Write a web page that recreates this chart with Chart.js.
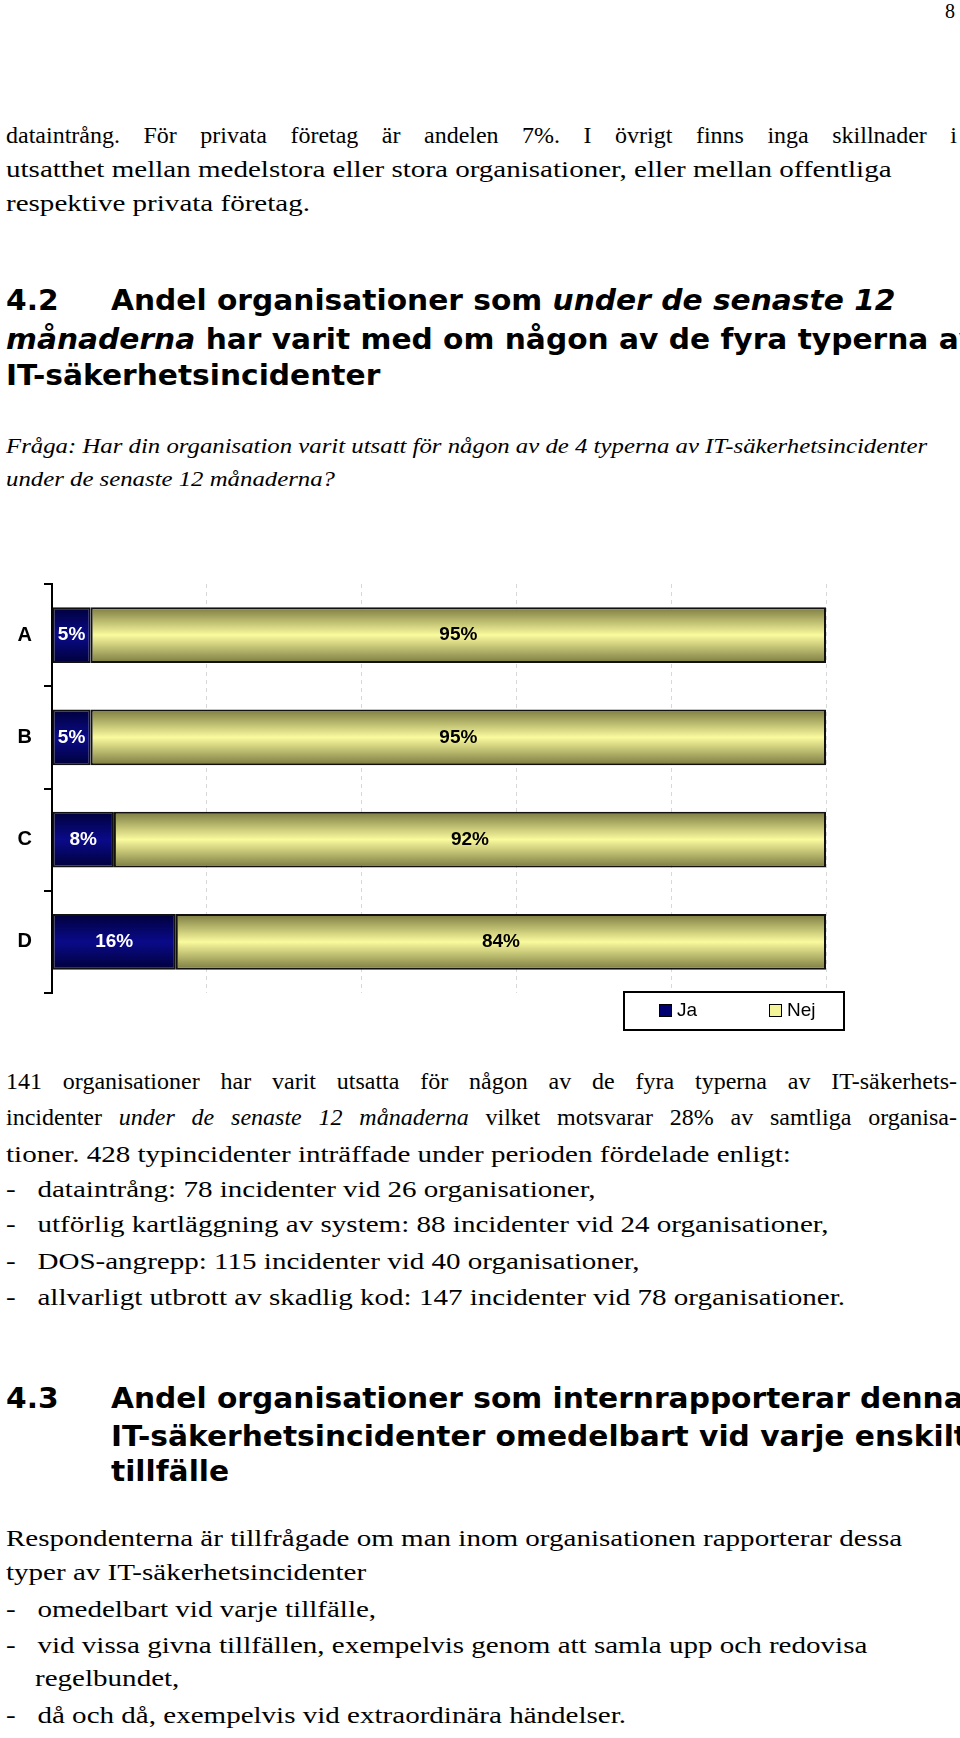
<!DOCTYPE html>
<html><head><meta charset="utf-8">
<script src="https://cdn.jsdelivr.net/npm/chart.js@4"></script>
<style>
body{margin:0;width:960px;height:1738px;background:#fff;position:relative;overflow:hidden;font-family:"Liberation Serif",serif;color:#000}
.l{position:absolute;left:6px;width:951px;font-size:24px;line-height:34px;white-space:nowrap}
.s{width:auto;transform:scaleX(1.21);transform-origin:0 0}
.j{text-align:justify;text-align-last:justify}
.h{position:absolute;font-family:"DejaVu Sans",sans-serif;font-weight:bold;font-size:28px;line-height:36px;white-space:nowrap;transform:scaleX(1.06);transform-origin:0 0}
.q{position:absolute;left:6px;font-style:italic;font-size:21px;line-height:30px;white-space:nowrap;transform:scaleX(1.18);transform-origin:0 0}
#wrap{position:absolute;left:0;top:560px;width:960px;height:460px}
#leg{position:absolute;left:623px;top:991px;width:218px;height:36px;border:2px solid #000;font-family:"Liberation Sans",Arial,sans-serif;font-size:19px}
#leg span.b{position:absolute;top:11px;width:11px;height:11px;border:1px solid #000}
#leg span.t{position:absolute;top:6px}
</style></head><body>
<div style="position:absolute;left:945px;top:0;font-size:20px">8</div>
<div class="l j" style="top:118px">dataintrång. För privata företag är andelen 7%. I övrigt finns inga skillnader i</div>
<div class="l s" style="top:152px">utsatthet mellan medelstora eller stora organisationer, eller mellan offentliga</div>
<div class="l s" style="top:186px">respektive privata företag.</div>

<div class="h" style="left:6px;top:283px">4.2</div>
<div class="h" style="left:111px;top:283px">Andel organisationer som <i>under de senaste 12</i></div>
<div class="h" style="left:6px;top:322px"><i>månaderna</i> har varit med om någon av de fyra typerna av</div>
<div class="h" style="left:6px;top:358px">IT-säkerhetsincidenter</div>

<div class="q" style="top:431px">Fråga: Har din organisation varit utsatt för någon av de 4 typerna av IT-säkerhetsincidenter</div>
<div class="q" style="top:464px">under de senaste 12 månaderna?</div>

<div id="wrap"><canvas id="c"></canvas></div>
<div id="leg">
<span class="b" style="left:34px;background:#000070"></span><span class="t" style="left:52px">Ja</span>
<span class="b" style="left:144px;background:#f3f39a"></span><span class="t" style="left:162px">Nej</span>
</div>

<div class="l j" style="top:1064px">141 organisationer har varit utsatta för någon av de fyra typerna av IT-säkerhets-</div>
<div class="l j" style="top:1100px">incidenter <i>under de senaste 12 månaderna</i> vilket motsvarar 28% av samtliga organisa-</div>
<div class="l s" style="top:1137px">tioner. 428 typincidenter inträffade under perioden fördelade enligt:</div>
<div class="l s" style="top:1172px">-&nbsp;&nbsp;&nbsp;dataintrång: 78 incidenter vid 26 organisationer,</div>
<div class="l s" style="top:1207px">-&nbsp;&nbsp;&nbsp;utförlig kartläggning av system: 88 incidenter vid 24 organisationer,</div>
<div class="l s" style="top:1244px">-&nbsp;&nbsp;&nbsp;DOS-angrepp: 115 incidenter vid 40 organisationer,</div>
<div class="l s" style="top:1280px">-&nbsp;&nbsp;&nbsp;allvarligt utbrott av skadlig kod: 147 incidenter vid 78 organisationer.</div>

<div class="h" style="left:6px;top:1381px">4.3</div>
<div class="h" style="left:111px;top:1381px">Andel organisationer som internrapporterar denna typ av</div>
<div class="h" style="left:111px;top:1419px">IT-säkerhetsincidenter omedelbart vid varje enskilt</div>
<div class="h" style="left:111px;top:1454px">tillfälle</div>

<div class="l s" style="top:1521px">Respondenterna är tillfrågade om man inom organisationen rapporterar dessa</div>
<div class="l s" style="top:1555px">typer av IT-säkerhetsincidenter</div>
<div class="l s" style="top:1592px">-&nbsp;&nbsp;&nbsp;omedelbart vid varje tillfälle,</div>
<div class="l s" style="top:1628px">-&nbsp;&nbsp;&nbsp;vid vissa givna tillfällen, exempelvis genom att samla upp och redovisa</div>
<div class="l s" style="top:1661px">&nbsp;&nbsp;&nbsp;&nbsp;regelbundet,</div>
<div class="l s" style="top:1698px">-&nbsp;&nbsp;&nbsp;då och då, exempelvis vid extraordinära händelser.</div>

<script>
const categories = ["A","B","C","D"];
const jaValues = [5,5,8,16];
const nejValues = [95,95,92,84];
const xTicks = [0,20,40,60,80,100];

function grad(ctx, stops){
  const ch = ctx.chart, y = ch.scales && ch.scales.y;
  if(!y || ctx.dataIndex===undefined) return stops[2];
  const c = y.getPixelForValue(ctx.dataIndex);
  if(!isFinite(c)) return stops[2];
  const h = 56;
  const g = ch.ctx.createLinearGradient(0,c-h/2,0,c+h/2);
  g.addColorStop(0,stops[0]); g.addColorStop(0.5,stops[1]); g.addColorStop(1,stops[0]);
  return g;
}
const labelsPlugin = {
  id:'lbl',
  afterDatasetsDraw(chart){
    const c = chart.ctx;
    c.save();
    c.font = 'bold 19px "Liberation Sans", Arial, sans-serif';
    c.textAlign='center'; c.textBaseline='middle';
    chart.data.datasets.forEach((ds,di)=>{
      chart.getDatasetMeta(di).data.forEach((el,i)=>{
        c.fillStyle = di===0 ? '#fff' : '#000';
        c.fillText(ds.data[i]+'%', (el.x+el.base)/2, el.y);
      });
    });
    c.restore();
  }
};
new Chart(document.getElementById('c'),{
  type:'bar',
  data:{labels:categories,datasets:[
    {label:'Ja',data:jaValues,backgroundColor:ctx=>grad(ctx,['#00003a','#0a0a8a','#000070']),borderColor:'#111',borderWidth:2,borderSkipped:false},
    {label:'Nej',data:nejValues,backgroundColor:ctx=>grad(ctx,['#7a7a40','#fafa9e','#e8e890']),borderColor:'#111',borderWidth:2,borderSkipped:false}
  ]},
  options:{
    indexAxis:'y',responsive:true,maintainAspectRatio:false,animation:false,
    layout:{padding:{left:0,right:134,top:21,bottom:27}},
    plugins:{legend:{display:false},tooltip:{enabled:false}},
    scales:{
      x:{stacked:true,min:0,max:100,afterBuildTicks:s=>{s.ticks=xTicks.map(v=>({value:v}));},
        ticks:{display:false},border:{display:false,dash:[4,4]},
        grid:{color:'#d8d8d8',lineWidth:1,drawTicks:false},
        afterFit:s=>{s.height=0;}},
      y:{stacked:true,
        ticks:{color:'#000',padding:12,font:{family:'"Liberation Sans", Arial, sans-serif',weight:'bold',size:20}},
        border:{color:'#000',width:2},
        grid:{offset:true,drawOnChartArea:false,color:'#000',lineWidth:2,tickLength:8},
        afterFit:s=>{s.width=52;}}
    },
    datasets:{bar:{categoryPercentage:1,barPercentage:0.544}}
  },
  plugins:[labelsPlugin]
});
</script>
</body></html>
